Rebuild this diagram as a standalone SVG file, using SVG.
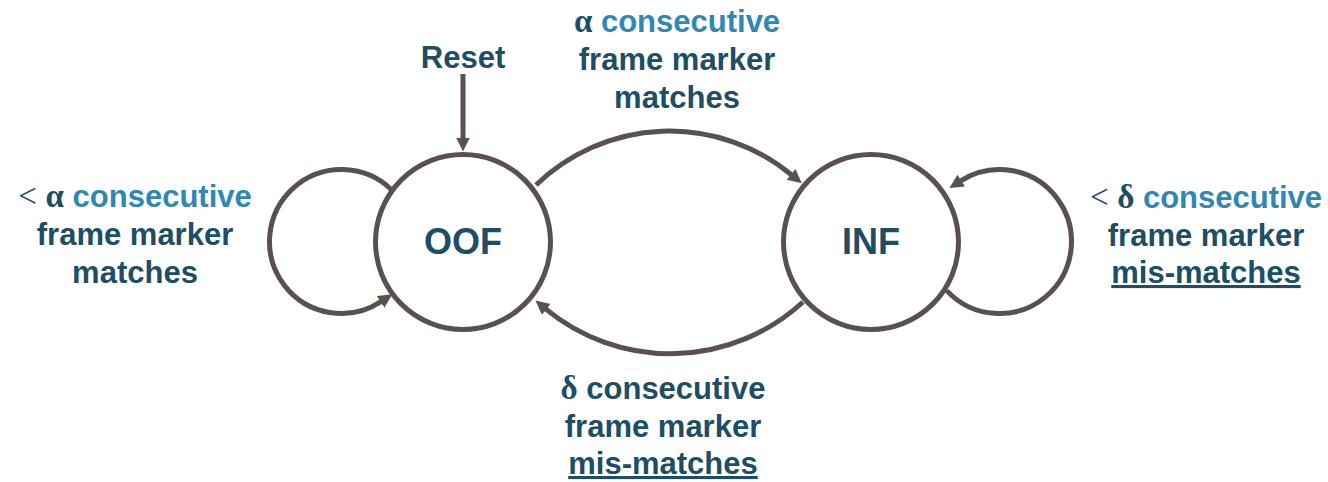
<svg xmlns="http://www.w3.org/2000/svg" width="1328" height="482" viewBox="0 0 1328 482">
  <style>
    .lbl { font-family: "Liberation Sans", Arial, sans-serif; font-weight: bold; font-size: 31px; fill: #1e4d66; text-anchor: middle; }
    .state { font-family: "Liberation Sans", Arial, sans-serif; font-weight: bold; font-size: 36px; fill: #1e4d66; text-anchor: middle; }
    .hi { fill: #2e87b4; }
    .sym { font-family: "Liberation Serif", "Times New Roman", serif; font-weight: bold; font-size: 33px; }
    .lt { font-family: "Liberation Serif", "Times New Roman", serif; font-weight: normal; font-size: 33px; }
    .ul { text-decoration: underline; text-underline-offset: 5px; text-decoration-thickness: 3px; }
    .node { fill: #ffffff; stroke: #5a514f; stroke-width: 5; }
    .edge { fill: none; stroke: #5a514f; stroke-width: 5; }
  </style>
  <defs>
    <marker id="arrow" markerUnits="userSpaceOnUse" markerWidth="15" markerHeight="15" refX="0.5" refY="7" orient="auto">
      <path d="M0,0 L14,7 L0,14 z" fill="#5a514f"/>
    </marker>
  </defs>

  <!-- transitions -->
  <g id="connectors">
    <!-- Reset entry -->
    <path class="edge" d="M463,74 L463,138" marker-end="url(#arrow)"/>
    <!-- OOF self-loop -->
    <path class="edge" d="M391.5,189.7 A72,72 0 1 0 381,301.7" marker-end="url(#arrow)"/>
    <!-- OOF to INF -->
    <path class="edge" d="M536,185 A192,192 0 0 1 791.4,174.7" marker-end="url(#arrow)"/>
    <!-- INF to OOF -->
    <path class="edge" d="M803,302 A196,196 0 0 1 545.9,309.1" marker-end="url(#arrow)"/>
    <!-- INF self-loop -->
    <path class="edge" d="M946.8,290.6 A72,72 0 1 0 960.8,180.8" marker-end="url(#arrow)"/>
  </g>

  <g id="node-oof">
    <circle class="node" cx="463" cy="242" r="87.5"/>
    <text class="state" x="463" y="254">OOF</text>
  </g>

  <g id="node-inf">
    <circle class="node" cx="871" cy="242" r="87.5"/>
    <text class="state" x="871" y="254">INF</text>
  </g>

  <!-- transition labels -->
  <g id="labels">
    <text class="lbl" x="463" y="68">Reset</text>

    <text class="lbl" x="677" y="32"><tspan class="sym">α</tspan> <tspan class="hi">consecutive</tspan></text>
    <text class="lbl" x="677" y="70">frame marker</text>
    <text class="lbl" x="677" y="107.5">matches</text>

    <text class="lbl" x="135" y="207"><tspan class="lt">&lt;</tspan> <tspan class="sym">α</tspan> <tspan class="hi">consecutive</tspan></text>
    <text class="lbl" x="135" y="245">frame marker</text>
    <text class="lbl" x="135" y="283">matches</text>

    <text class="lbl" x="1206" y="208"><tspan class="lt">&lt;</tspan> <tspan class="sym">δ</tspan> <tspan class="hi">consecutive</tspan></text>
    <text class="lbl" x="1206" y="246">frame marker</text>
    <text class="lbl ul" x="1206" y="283">mis-matches</text>

    <text class="lbl" x="663" y="399"><tspan class="sym">δ</tspan> consecutive</text>
    <text class="lbl" x="663" y="437">frame marker</text>
    <text class="lbl ul" x="663" y="474">mis-matches</text>
  </g>
</svg>
